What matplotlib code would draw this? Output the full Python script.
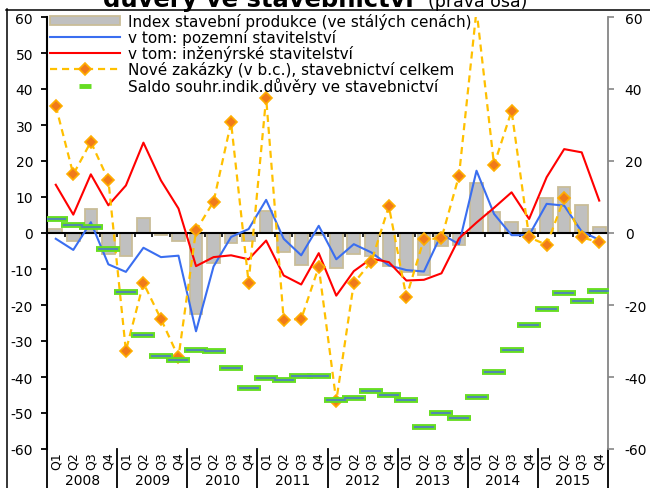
import matplotlib
matplotlib.use("Agg")
from matplotlib import pyplot as plt
from matplotlib.lines import Line2D
from matplotlib.patches import Patch

plt.rcParams['font.family'] = ['DejaVu Sans']
plt.rcParams['axes.unicode_minus'] = False

years = ["2008", "2009", "2010", "2011", "2012", "2013", "2014", "2015"]
quarters = ["Q1", "Q2", "Q3", "Q4"]

# index stavebni produkce (sloupce)
index_prod = [1.2, -2.1, 6.8, -5.8, -6.3, 4.1, -0.6, -2.2, -22.5, -8.4, -2.7, -2.1,
              6.2, -5.3, -8.8, -0.5, -9.8, -5.7, -6.3, -9.1, -10.8, -11.8, -3.5, -3.2,
              14.0, 5.7, 3.1, 1.1, 9.7, 12.7, 7.7, 1.6]
pozemni = [-1.6, -4.7, 3.0, -8.7, -10.8, -4.1, -6.7, -6.3, -27.3, -9.3, -1.1, 1.1,
           9.2, -1.6, -6.2, 2.0, -7.3, -3.1, -5.4, -9.0, -10.3, -10.7, -0.3, -3.1,
           17.3, 5.3, -0.6, -0.6, 8.1, 7.6, 0.4, -1.9]
inzenyrske = [13.4, 5.1, 16.3, 7.7, 13.2, 25.1, 14.6, 6.8, -9.2, -6.7, -6.2, -7.3,
              -2.1, -11.8, -14.3, -5.6, -17.4, -10.6, -7.1, -8.1, -13.2, -13.0, -11.2, -1.5,
              2.9, 7.0, 11.3, 3.9, 15.5, 23.3, 22.4, 9.0]
zakazky = [35.3, 16.3, 25.3, 14.7, -32.7, -13.9, -23.9, -34.5, 0.7, 8.7, 30.7, -13.8,
           37.6, -24.1, -23.9, -9.4, -46.7, -13.9, -8.0, 7.4, -17.8, -1.7, -1.5, 15.9,
           62.0, 18.9, 33.9, -1.2, -3.3, 9.6, -1.2, -2.6]
saldo = [3.8, 2.3, 1.6, -4.4, -16.4, -28.2, -34.1, -35.3, -32.5, -32.9, -37.4, -43.0,
         -40.4, -40.9, -39.6, -39.7, -46.5, -45.8, -44.0, -45.1, -46.5, -53.9, -50.1, -51.4,
         -45.6, -38.7, -32.4, -25.6, -21.2, -16.6, -18.9, -16.0]

W, H = 650, 489
fig = plt.figure(figsize=(6.5, 4.89), dpi=100)
ax = fig.add_axes([47 / W, (H - 450) / H, (608 - 47) / W, (450 - 18) / H])

x = list(range(len(index_prod)))

ax.bar(x, index_prod, width=0.72, color="#c0c0c0", edgecolor="#c9bd98", linewidth=1.3, zorder=1)
ax.plot(x, pozemni, color="#3a6ef0", lw=1.5, zorder=3)
ax.plot(x, inzenyrske, color="#ff0000", lw=1.5, zorder=3)
ax.plot(x, zakazky, color="#ffc000", lw=1.6, dashes=(3.2, 2.2), marker="D", markersize=6,
        markerfacecolor="#f07a1a", markeredgecolor="#ffae00", markeredgewidth=1.2, zorder=4)

ax.set_xlim(-0.5, len(x) - 0.5)
ax.set_ylim(-60, 60)
ax.set_yticks(range(-60, 61, 10))
ax.tick_params(axis="y", direction="out", length=4, width=1.3, pad=6, labelsize=10)

# osa x v nule
ax.spines["bottom"].set_position(("data", 0))
ax.spines["bottom"].set_linewidth(1.5)
ax.spines["bottom"].set_zorder(2)
ax.spines["top"].set_visible(False)
ax.spines["right"].set_visible(False)
ax.spines["left"].set_linewidth(1.5)
ax.set_xticks([i - 0.5 for i in range(1, len(x))])
ax.tick_params(axis="x", direction="out", length=3, width=1.2, labelbottom=False)

# popisky kvartalu a let
tr = ax.get_xaxis_transform()
for i in x:
    ax.text(i, -0.006, quarters[i % 4], transform=tr, rotation=90, ha="center", va="top", fontsize=9)
for k, yr in enumerate(years):
    ax.text(4 * k + 1.5, -0.072, yr, transform=tr, ha="center", va="center", fontsize=10)
for k in range(len(years) + 1):
    ax.plot([4 * k - 0.5, 4 * k - 0.5], [0, -0.1], transform=tr, color="black", lw=1.3, clip_on=False)

# prava osa
ax2 = ax.twinx()
ax2.plot(x, saldo, linestyle="none", marker="_", markersize=17, markeredgewidth=4.2,
         color="#66dd22", zorder=5)
ax2.plot(x, saldo, linestyle="none", marker="_", markersize=14, markeredgewidth=1.3,
         color="#4f81bd", zorder=6)
ax2.set_ylim(-60, 60)
ax2.set_yticks(range(-60, 61, 20))
for s in ["top", "bottom", "left"]:
    ax2.spines[s].set_visible(False)
ax2.spines["right"].set_color("#868686")
ax2.spines["right"].set_linewidth(1.3)
ax2.tick_params(axis="y", direction="out", length=4, width=1.2, color="#868686", pad=8, labelsize=10)

handles = [
    Patch(facecolor="#c0c0c0", edgecolor="#c9bd98", linewidth=1.3),
    Line2D([], [], color="#3a6ef0", lw=1.5),
    Line2D([], [], color="#ff0000", lw=1.5),
    Line2D([], [], color="#ffc000", lw=1.6, dashes=(3.2, 2.2), marker="D", markersize=6,
           markerfacecolor="#f07a1a", markeredgecolor="#ffae00", markeredgewidth=1.2),
    Line2D([], [], linestyle="none", marker="_", markersize=9, markeredgewidth=3.5, color="#66dd22"),
]
labels = [
    "Index stavební produkce (ve stálých cenách)",
    "v tom: pozemní stavitelství",
    "v tom: inženýrské stavitelství",
    "Nové zakázky (v b.c.), stavebnictví celkem",
    "Saldo souhr.indik.důvěry ve stavebnictví",
]
leg = ax2.legend(handles, labels, loc="upper left", bbox_to_anchor=(50 / W, 1 - 14 / H),
                 bbox_transform=fig.transFigure, frameon=False, fontsize=11,
                 handlelength=4.6, handleheight=0.6, handletextpad=0.5, labelspacing=0.0,
                 borderpad=0, borderaxespad=0)
leg.set_zorder(10)

# titulek (oriznuty) a ramecek
fig.text(103 / W, 1 - 7 / H, "důvěry ve stavebnictví", fontsize=17.5, fontweight="bold",
         ha="left", va="baseline")
fig.text(428 / W, 1 - 7 / H, "(pravá osa)", fontsize=12.5, ha="left", va="baseline")
fig.add_artist(Line2D([6.5 / W, 6.5 / W], [0, 1 - 10 / H], color="black", lw=1.1))
fig.add_artist(Line2D([6 / W, 1], [1 - 10.5 / H, 1 - 10.5 / H], color="black", lw=1.1))

plt.savefig("out.png", dpi=100)
